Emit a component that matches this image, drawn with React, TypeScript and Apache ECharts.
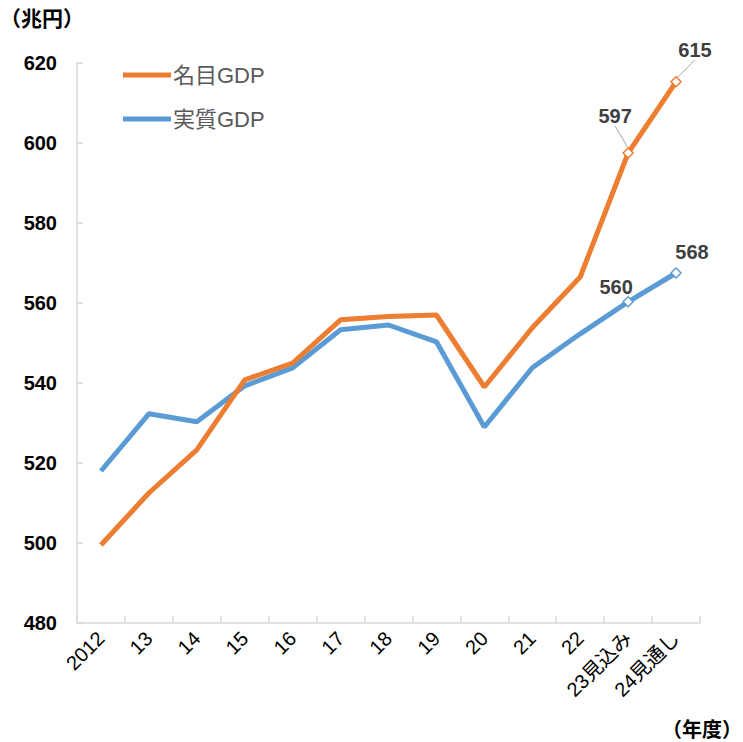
import React, { useEffect, useRef } from "react";
import * as echarts from "echarts";

const categories = ["2012", "13", "14", "15", "16", "17", "18", "19", "20", "21", "22", "23見込み", "24見通し"];
const nominalGDP = [499.5, 512.5, 523.3, 540.8, 545, 555.8, 556.6, 557, 539, 553.8, 566.5, 597.5, 615.3];
const realGDP = [518, 532.3, 530.3, 539.3, 543.8, 553.3, 554.5, 550.3, 529, 543.8, 552.3, 560.3, 567.5];
const nominalLabels = ["", "", "", "", "", "", "", "", "", "", "", "597", "615"];
const realLabels = ["", "", "", "", "", "", "", "", "", "", "", "560", "568"];
const seriesNames = ["名目GDP", "実質GDP"];
const yUnit = "（兆円）";
const xUnit = "（年度）";

const ORANGE = "#ED7D31";
const BLUE = "#5B9BD5";
const FONT = "'Liberation Sans', 'Noto Sans CJK JP', sans-serif";
const CJK = "'Noto Sans CJK JP', sans-serif";

function buildData(values: number[], labels: string[], color: string) {
  return values.map((v, i) =>
    labels[i]
      ? {
          value: v,
          symbol: "diamond",
          symbolSize: 10,
          itemStyle: { color: "#ffffff", borderColor: color, borderWidth: 1.5 },
          label: { show: true, formatter: labels[i] },
        }
      : { value: v, symbol: "none" }
  );
}

export default function App() {
  const ref = useRef<HTMLDivElement>(null);
  useEffect(() => {
    document.body.style.margin = "0";
    const chart = echarts.init(ref.current!, null, { renderer: "svg" });
    const nomOffsets: Record<number, [number, number]> = { 11: [-13, -37], 12: [19, -32] };
    const realOffsets: Record<number, [number, number]> = { 11: [-12, -15], 12: [16, -21] };
    const labelStyle = {
      position: "inside",
      color: "#404040",
      fontSize: 20,
      fontWeight: "bold",
      fontFamily: FONT,
    };
    chart.setOption({
      animation: false,
      backgroundColor: "#ffffff",
      grid: { left: 77, right: 43, top: 63, bottom: 119, containLabel: false, outerBoundsMode: "none" },
      legend: {
        left: 118,
        top: 58,
        orient: "vertical",
        itemWidth: 48,
        itemHeight: 5,
        itemGap: 20,
        icon: "rect",
        data: seriesNames,
        textStyle: { color: "#595959", fontSize: 22, fontFamily: FONT, lineHeight: 24, padding: [0, 0, 0, -3] },
      },
      xAxis: {
        type: "category",
        data: categories,
        boundaryGap: true,
        axisLine: { lineStyle: { color: "#d9d9d9", width: 1.5 } },
        axisTick: { show: true, inside: true, length: 7, lineStyle: { color: "#d9d9d9", width: 1.5 } },
        axisLabel: {
          rotate: 45,
          color: "#000000",
          fontSize: 20,
          fontFamily: FONT,
          margin: 12,
          interval: 0,
        },
      },
      yAxis: {
        type: "value",
        min: 480,
        max: 620,
        interval: 20,
        splitLine: { show: false },
        axisLine: { show: true, lineStyle: { color: "#d9d9d9", width: 1.5 } },
        axisTick: { show: true, inside: true, length: 6, lineStyle: { color: "#d9d9d9", width: 1.5 } },
        axisLabel: { color: "#000000", fontSize: 20, fontWeight: "bold", fontFamily: FONT, margin: 20 },
      },
      graphic: [
        {
          type: "text",
          left: 0,
          top: 6,
          style: { text: yUnit, fontSize: 21, fontWeight: "bold", fill: "#000000", fontFamily: CJK },
        },
        {
          type: "text",
          right: 1,
          bottom: 4,
          style: { text: xUnit, fontSize: 20, fontWeight: "bold", fill: "#000000", fontFamily: CJK },
        },
      ],
      series: [
        {
          name: seriesNames[0],
          type: "line",
          color: ORANGE,
          lineStyle: { width: 5, color: ORANGE },
          itemStyle: { color: ORANGE },
          showSymbol: true,
          z: 3,
          data: buildData(nominalGDP, nominalLabels, ORANGE),
          label: labelStyle,
          labelLine: { show: true, lineStyle: { color: "#a6a6a6", width: 1 } },
          labelLayout: (p: any) => {
            const o = nomOffsets[p.dataIndex];
            return o ? { dx: o[0], dy: o[1] } : {};
          },
        },
        {
          name: seriesNames[1],
          type: "line",
          color: BLUE,
          lineStyle: { width: 5, color: BLUE },
          itemStyle: { color: BLUE },
          showSymbol: true,
          z: 2,
          data: buildData(realGDP, realLabels, BLUE),
          label: labelStyle,
          labelLayout: (p: any) => {
            const o = realOffsets[p.dataIndex];
            return o ? { dx: o[0], dy: o[1] } : {};
          },
        },
      ],
    });
    return () => chart.dispose();
  }, []);
  return <div ref={ref} style={{ width: 743, height: 742, position: "absolute", left: 0, top: 0 }} />;
}
